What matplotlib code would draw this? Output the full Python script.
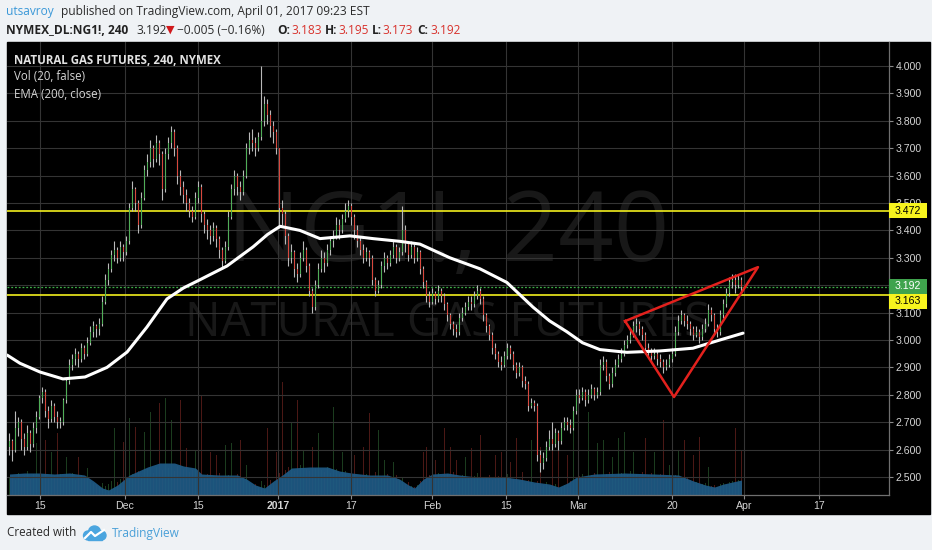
import numpy as np
import matplotlib
matplotlib.use('Agg')
import matplotlib.pyplot as plt
from matplotlib.patches import Rectangle, Circle
from matplotlib import transforms
from matplotlib.ticker import FormatStrFormatter

plt.rcParams['font.family'] = ['Open Sans', 'DejaVu Sans']

first_open = 2.61
closes = [
    2.63, 2.60, 2.68, 2.70, 2.64, 2.61, 2.66, 2.62, 2.68, 2.72,
    2.79, 2.81, 2.74, 2.71, 2.76, 2.72, 2.70, 2.70, 2.78, 2.85,
    2.91, 2.93, 2.95, 2.93, 2.97, 2.95, 2.99, 3.03, 3.05, 3.04,
    3.06, 3.14, 3.22, 3.26, 3.31, 3.33, 3.30, 3.34, 3.32, 3.36,
    3.48, 3.55, 3.50, 3.42, 3.52, 3.62, 3.65, 3.70, 3.66, 3.72,
    3.68, 3.55, 3.68, 3.72, 3.76, 3.70, 3.60, 3.56, 3.53, 3.50,
    3.47, 3.45, 3.52, 3.56, 3.46, 3.42, 3.40, 3.38, 3.41, 3.37,
    3.33, 3.29, 3.34, 3.45, 3.55, 3.60, 3.56, 3.54, 3.60, 3.70,
    3.73, 3.72, 3.70, 3.74, 3.80, 3.86, 3.82, 3.78, 3.76, 3.70,
    3.48, 3.46, 3.38, 3.30, 3.32, 3.26, 3.24, 3.30, 3.33, 3.27,
    3.18, 3.12, 3.20, 3.26, 3.30, 3.28, 3.33, 3.36, 3.38, 3.42,
    3.40, 3.44, 3.47, 3.49, 3.45, 3.40, 3.36, 3.33, 3.30, 3.32,
    3.30, 3.22, 3.18, 3.20, 3.27, 3.30, 3.28, 3.31, 3.34, 3.30,
    3.32, 3.40, 3.35, 3.31, 3.34, 3.30, 3.32, 3.26, 3.21, 3.16,
    3.14, 3.17, 3.15, 3.18, 3.16, 3.13, 3.09, 3.06, 3.04, 3.03,
    3.08, 3.10, 3.12, 3.14, 3.13, 3.16, 3.18, 3.15, 3.09, 3.05,
    3.02, 2.97, 2.95, 2.92, 2.91, 2.94, 2.97, 2.95, 2.91, 2.88,
    2.90, 2.85, 2.84, 2.76, 2.77, 2.76, 2.58, 2.55, 2.57, 2.61,
    2.64, 2.62, 2.66, 2.63, 2.68, 2.70, 2.69, 2.68, 2.74, 2.80,
    2.79, 2.81, 2.78, 2.80, 2.82, 2.80, 2.81, 2.91, 2.92, 2.87,
    2.84, 2.88, 2.91, 2.93, 2.95, 2.98, 3.00, 3.02, 3.05, 3.06,
    3.04, 3.02, 2.97, 2.96, 2.94, 2.95, 2.93, 2.92, 2.90, 2.91,
    2.93, 2.95, 3.03, 3.07, 3.09, 3.07, 3.06, 3.04, 3.02, 3.03,
    3.01, 3.04, 3.06, 3.11, 3.09, 3.04, 3.03, 3.09, 3.13, 3.17,
    3.21, 3.22, 3.20, 3.22, 3.192,
]
highs = [
    2.66, 2.64, 2.74, 2.72, 2.71, 2.66, 2.69, 2.67, 2.70, 2.74,
    2.80, 2.83, 2.82, 2.76, 2.78, 2.77, 2.74, 2.72, 2.79, 2.86,
    2.93, 2.95, 2.97, 2.96, 2.99, 2.98, 3.01, 3.05, 3.07, 3.06,
    3.08, 3.16, 3.24, 3.28, 3.33, 3.36, 3.34, 3.36, 3.35, 3.38,
    3.50, 3.58, 3.56, 3.51, 3.54, 3.64, 3.68, 3.73, 3.71, 3.75,
    3.73, 3.69, 3.70, 3.74, 3.78, 3.77, 3.71, 3.62, 3.58, 3.55,
    3.52, 3.49, 3.54, 3.58, 3.57, 3.47, 3.44, 3.42, 3.43, 3.42,
    3.38, 3.34, 3.36, 3.47, 3.57, 3.62, 3.61, 3.58, 3.62, 3.72,
    3.76, 3.77, 3.74, 3.76, 4.00, 3.89, 3.88, 3.84, 3.80, 3.77,
    3.70, 3.51, 3.47, 3.39, 3.35, 3.33, 3.28, 3.32, 3.36, 3.34,
    3.28, 3.19, 3.22, 3.28, 3.33, 3.32, 3.35, 3.38, 3.40, 3.45,
    3.44, 3.46, 3.50, 3.51, 3.50, 3.46, 3.42, 3.38, 3.35, 3.34,
    3.33, 3.31, 3.23, 3.22, 3.29, 3.32, 3.31, 3.33, 3.36, 3.35,
    3.34, 3.49, 3.42, 3.36, 3.36, 3.35, 3.34, 3.33, 3.27, 3.22,
    3.18, 3.19, 3.18, 3.20, 3.19, 3.17, 3.14, 3.10, 3.07, 3.06,
    3.10, 3.12, 3.14, 3.16, 3.16, 3.18, 3.20, 3.19, 3.16, 3.10,
    3.06, 3.03, 2.99, 2.96, 2.94, 2.96, 2.99, 2.98, 2.96, 2.92,
    2.92, 2.91, 2.87, 2.85, 2.79, 2.78, 2.77, 2.60, 2.59, 2.63,
    2.67, 2.70, 2.68, 2.67, 2.70, 2.72, 2.72, 2.71, 2.76, 2.82,
    2.82, 2.83, 2.82, 2.82, 2.84, 2.83, 2.83, 2.93, 2.94, 2.93,
    2.88, 2.90, 2.93, 2.95, 2.97, 3.00, 3.02, 3.04, 3.07, 3.08,
    3.07, 3.05, 3.03, 2.99, 2.97, 2.97, 2.96, 2.95, 2.93, 2.93,
    2.95, 2.97, 3.05, 3.09, 3.11, 3.10, 3.09, 3.07, 3.05, 3.05,
    3.04, 3.06, 3.08, 3.13, 3.12, 3.10, 3.06, 3.11, 3.15, 3.19,
    3.23, 3.24, 3.24, 3.24, 3.23,
]
lows = [
    2.58, 2.56, 2.59, 2.65, 2.60, 2.58, 2.60, 2.59, 2.61, 2.66,
    2.71, 2.77, 2.72, 2.68, 2.70, 2.70, 2.68, 2.68, 2.69, 2.77,
    2.84, 2.89, 2.91, 2.90, 2.92, 2.93, 2.94, 2.98, 3.01, 3.01,
    3.02, 3.05, 3.13, 3.20, 3.25, 3.29, 3.28, 3.29, 3.29, 3.31,
    3.35, 3.47, 3.47, 3.39, 3.41, 3.51, 3.60, 3.63, 3.63, 3.65,
    3.64, 3.51, 3.54, 3.66, 3.70, 3.67, 3.57, 3.53, 3.50, 3.47,
    3.45, 3.43, 3.44, 3.50, 3.43, 3.39, 3.37, 3.35, 3.36, 3.34,
    3.30, 3.26, 3.28, 3.33, 3.44, 3.53, 3.53, 3.51, 3.53, 3.59,
    3.68, 3.69, 3.67, 3.69, 3.73, 3.78, 3.79, 3.74, 3.72, 3.68,
    3.41, 3.42, 3.35, 3.27, 3.28, 3.23, 3.21, 3.23, 3.29, 3.25,
    3.16, 3.10, 3.11, 3.19, 3.25, 3.25, 3.27, 3.31, 3.34, 3.37,
    3.37, 3.39, 3.43, 3.45, 3.42, 3.37, 3.34, 3.31, 3.28, 3.29,
    3.27, 3.20, 3.16, 3.17, 3.19, 3.25, 3.26, 3.27, 3.30, 3.28,
    3.29, 3.31, 3.32, 3.29, 3.30, 3.28, 3.29, 3.24, 3.19, 3.14,
    3.12, 3.13, 3.13, 3.14, 3.14, 3.11, 3.07, 3.04, 3.02, 3.01,
    3.02, 3.07, 3.09, 3.11, 3.11, 3.12, 3.15, 3.13, 3.07, 3.03,
    3.00, 2.95, 2.93, 2.90, 2.89, 2.90, 2.93, 2.93, 2.89, 2.86,
    2.87, 2.83, 2.82, 2.74, 2.75, 2.74, 2.56, 2.52, 2.53, 2.56,
    2.60, 2.60, 2.61, 2.60, 2.62, 2.67, 2.67, 2.66, 2.67, 2.73,
    2.77, 2.78, 2.76, 2.77, 2.79, 2.78, 2.79, 2.80, 2.89, 2.85,
    2.82, 2.83, 2.87, 2.90, 2.92, 2.94, 2.97, 2.99, 3.01, 3.03,
    3.02, 3.00, 2.95, 2.94, 2.92, 2.93, 2.91, 2.90, 2.88, 2.89,
    2.90, 2.92, 2.94, 3.02, 3.06, 3.05, 3.04, 3.02, 3.00, 3.01,
    2.99, 3.00, 3.03, 3.05, 3.07, 3.02, 3.01, 3.02, 3.08, 3.12,
    3.16, 3.19, 3.17, 3.19, 3.17,
]
volumes = [
    18, 20, 15, 22, 17, 19, 24, 16, 21, 52,
    20, 18, 55, 17, 43, 19, 62, 21, 16, 38,
    18, 22, 15, 38, 20, 17, 27, 14, 12, 10,
    8, 12, 9, 11, 14, 67, 13, 16, 53, 18,
    77, 21, 68, 24, 19, 63, 26, 83, 22, 28,
    92, 25, 97, 27, 75, 24, 29, 95, 26, 47,
    23, 25, 45, 20, 99, 18, 21, 43, 19, 40,
    22, 17, 50, 20, 52, 18, 21, 55, 16, 30,
    12, 9, 11, 8, 14, 10, 67, 15, 12, 43,
    22, 113, 25, 28, 72, 24, 95, 30, 45, 26,
    24, 48, 27, 62, 25, 23, 28, 22, 88, 26,
    21, 43, 24, 19, 22, 40, 18, 20, 48, 21,
    82, 19, 23, 65, 18, 35, 21, 17, 33, 20,
    15, 18, 11, 13, 9, 8, 10, 14, 43, 48,
    20, 18, 35, 22, 19, 67, 21, 48, 23, 35,
    18, 20, 38, 17, 47, 19, 22, 60, 16, 18,
    20, 15, 40, 19, 43, 17, 21, 33, 16, 57,
    14, 23, 12, 15, 55, 11, 14, 48, 10, 13,
    9, 47, 11, 55, 8, 10, 40, 14, 73, 16,
    19, 21, 17, 83, 20, 22, 52, 18, 55, 21,
    23, 38, 19, 57, 22, 63, 20, 24, 43, 21,
    19, 23, 57, 20, 22, 43, 18, 21, 75, 19,
    30, 22, 20, 45, 18, 55, 17, 15, 40, 13,
    58, 11, 12, 28, 9, 10, 8, 11, 12, 10,
    13, 14, 67, 15, 45,
]
vol_ma_idx = [0, 5, 10, 15, 20, 25, 28, 31, 33, 36, 40, 43, 46, 50, 55, 58, 62, 64,
              70, 76, 79, 82, 85, 88, 91, 94, 100, 106, 110, 114, 120, 126, 130, 133,
              135, 138, 141, 146, 150, 156, 165, 170, 175, 180, 183, 186, 189, 195,
              205, 215, 223, 228, 232, 235, 238, 241, 244]
vol_ma = [21, 22, 22, 21, 22, 20, 14, 7, 5, 10, 20, 24, 28, 32, 32, 29, 27, 21,
          20, 20, 16, 10, 7, 14, 20, 27, 28, 28, 24, 22, 20, 20, 16, 10,
          7, 16, 21, 22, 20, 18, 18, 16, 13, 11, 8, 12, 18, 21,
          22, 21, 20, 14, 10, 8, 11, 13, 15]
ema_idx = [-0.8, 3.5, 10.2, 17.8, 25.2, 32.5, 39.2, 45.8, 52.5, 58, 63.5, 72.5, 81.2,
           86, 90.2, 96.8, 103.5, 113.5, 121.2, 130.2, 136.8, 146.8, 156.8, 165.8,
           174.5, 180, 185.8, 191, 196.8, 205.8, 216.8, 227.8, 236.8, 244.5]
ema_vals = [2.945, 2.915, 2.883, 2.858, 2.865, 2.90, 2.956, 3.047, 3.15, 3.19, 3.22,
            3.27, 3.34, 3.385, 3.415, 3.40, 3.37, 3.38, 3.37, 3.36, 3.35, 3.30, 3.26,
            3.21, 3.12, 3.07, 3.03, 2.99, 2.965, 2.955, 2.96, 2.97, 3.00, 3.025]

tick_pos = [10.17, 38.5, 62.83, 89.5, 113.83, 140.83, 165.5, 189.5, 220.83, 244.83, 269.83]
tick_labels = ['15', 'Dec', '15', '2017', '17', 'Feb', '15', 'Mar', '20', 'Apr', '17']
levels = [3.472, 3.163]
last_price = 3.192
wedge_x = [205.2, 249.5, 221.5, 205.2]
wedge_y = [3.069, 3.266, 2.792, 3.069]

assert len(closes) == len(highs) == len(lows) == len(volumes)

n = len(closes)
x = np.arange(n)
c = np.array(closes)
o = np.array([first_open] + closes[:-1])
up = c >= o
up_col, dn_col, wick_col = '#4fae57', '#d8473d', '#b9b9b9'

W, H = 932, 550
fig = plt.figure(figsize=(W / 100, H / 100), dpi=100, facecolor='#eff2f5')


def fx(px):
    return px / W


def fy(py):
    return 1 - py / H


# black chart panel including the axis strips
fig.add_artist(Rectangle((fx(7), fy(514)), fx(930) - fx(7), fy(42) - fy(514),
                         transform=fig.transFigure, color='black', zorder=0))

ax = fig.add_axes([fx(7), fy(495), fx(889) - fx(7), fy(42) - fy(495)])
ax2 = ax.twinx()
ax2.set_zorder(1)
ax.set_zorder(2)
ax.patch.set_visible(False)
ax2.patch.set_facecolor('black')

# volume pane
vcol = np.where(up, up_col, dn_col)
ax2.bar(x, volumes, width=0.4, color=vcol, alpha=0.35, linewidth=0)
ax2.fill_between(vol_ma_idx, 0, vol_ma, color='#1f5b86', alpha=0.92, linewidth=0)
ax2.set_ylim(0, 453)
ax2.set_yticks([])
for s in ax2.spines.values():
    s.set_visible(False)

# watermark
ax.text(0.5, (495 - 236) / 453, 'NG1!, 240', transform=ax.transAxes, ha='center',
        va='center', fontsize=70, color='#181818', zorder=0.5)
ax.text(0.5, (495 - 323) / 453, 'NATURAL GAS FUTURES', transform=ax.transAxes,
        ha='center', va='center', fontsize=34, color='#181818', zorder=0.5)

# candles
ax.vlines(x, lows, highs, color=wick_col, linewidth=0.8, zorder=3)
body_lo = np.minimum(o, c)
body_h = np.maximum(np.abs(c - o), 0.004)
ax.bar(x, body_h, bottom=body_lo, width=0.6, color=np.where(up, up_col, dn_col),
       linewidth=0, zorder=4)

ax.plot(ema_idx, ema_vals, color='white', linewidth=2.2, zorder=5,
        solid_capstyle='round')
for lv in levels:
    ax.axhline(lv, color='#f2ee1d', linewidth=1.2, zorder=2.6)
ax.axhline(last_price, color='#3cae47', linewidth=0.9, linestyle=(0, (1.5, 1.5)), zorder=2.6)
ax.plot(wedge_x, wedge_y, color='#e3211d', linewidth=1.8, zorder=6)

ax.set_xlim(-0.83, 293.17)
ax.set_ylim(2.4343, 4.0876)
ax.set_yticks(np.arange(2.5, 4.001, 0.1))
ax.yaxis.set_major_formatter(FormatStrFormatter('%.3f'))
ax.yaxis.tick_right()
ax.set_xticks(tick_pos, tick_labels)
ax.get_xticklabels()[3].set_fontweight('bold')
for lab in ax.get_xticklabels() + ax.get_yticklabels():
    lab.set_fontfamily(['Liberation Sans', 'DejaVu Sans'])
ax.tick_params(axis='both', colors='#8a8a8a', labelcolor='#d4d4d4', labelsize=7.6,
               length=3, width=0.8)
ax.tick_params(axis='x', pad=1.5)
ax.tick_params(axis='y', pad=2)
ax.grid(color='#343434', linewidth=0.8)
ax.set_axisbelow(True)
for side in ['top', 'left']:
    ax.spines[side].set_visible(False)
for side in ['right', 'bottom']:
    ax.spines[side].set_color('#6f6f6f')
    ax.spines[side].set_linewidth(0.9)

# price labels on the scale
bt = transforms.blended_transform_factory(ax.transAxes, ax.transData)
box_w = 38 / 882
box_h = 15 / 274
for val, y, fc, tc in [(3.472, 3.472, '#f7f41e', 'black'),
                       (3.192, 3.197, '#3fa34d', 'white'),
                       (3.163, 3.141, '#f7f41e', 'black')]:
    ax.add_patch(Rectangle((1.0, y - box_h / 2), box_w, box_h, transform=bt,
                           facecolor=fc, edgecolor='none', clip_on=False, zorder=7))
    ax.text(1.0 + 6 / 882, y, '%.3f' % val, transform=bt, ha='left', va='center',
            fontsize=7.6, color=tc, clip_on=False, zorder=8,
            family=['Liberation Sans', 'DejaVu Sans'])

# legend texts in the pane
ax.text(7 / 882, (495 - 60) / 453, 'NATURAL GAS FUTURES, 240, NYMEX',
        transform=ax.transAxes, fontsize=8.3, fontweight='bold', color='#e2e2e2',
        va='center', ha='left', zorder=8)
ax.text(7 / 882, (495 - 77) / 453, 'Vol (20, false)', transform=ax.transAxes,
        fontsize=8.3, color='#d6d6d6', va='center', ha='left', zorder=8)
ax.text(7 / 882, (495 - 94) / 453, 'EMA (200, close)', transform=ax.transAxes,
        fontsize=8.3, color='#d6d6d6', va='center', ha='left', zorder=8)

# header
fs = 8.6
fig.text(fx(6), fy(11), 'utsavroy', color='#3a98d8', fontsize=fs, va='center')
fig.text(fx(61), fy(11), 'published on TradingView.com, April 01, 2017 09:23 EST',
         color='#2b2b2b', fontsize=fs, va='center')
red = '#d8322c'
fig.text(fx(6), fy(30), 'NYMEX_DL:NG1!, 240', color='#222222', fontsize=fs,
         fontweight='bold', va='center')
fig.text(fx(136), fy(30), '3.192', color='#2b2b2b', fontsize=fs, va='center')
fig.text(fx(166), fy(30), '\u25bc', color='#d0191c', fontsize=8, va='center',
         family=['DejaVu Sans'])
fig.text(fx(177), fy(30), '\u22120.005 (\u22120.16%)', color='#2b2b2b', fontsize=fs,
         va='center', family=['Open Sans', 'DejaVu Sans'])
for px, lab in [(277, 'O:'), (325, 'H:'), (372, 'L:'), (417, 'C:')]:
    fig.text(fx(px), fy(30), lab, color='#222222', fontsize=fs,
             fontweight='bold', va='center')
for px, val in [(291, '3.183'), (338, '3.195'), (382, '3.173'), (430, '3.192')]:
    fig.text(fx(px), fy(30), val, color=red, fontsize=fs, va='center')

# footer
fig.text(fx(7), fy(533), 'Created with', color='#2b2b2b', fontsize=8.4, va='center')
lax = fig.add_axes([fx(82), fy(542), 26 / W, 18 / H])
lax.set_xlim(0, 26)
lax.set_ylim(0, 18)
lax.axis('off')
for cx, cy, r in [(6, 6.5, 4.5), (12.5, 10, 6), (19.5, 6.5, 4.5)]:
    lax.add_patch(Circle((cx, cy), r, color='#4aa5df'))
lax.add_patch(Rectangle((6, 2), 13.5, 5, color='#4aa5df'))
lax.plot([3, 9, 13, 22], [4, 10, 6, 12], color='white', linewidth=1.6)
fig.text(fx(112), fy(533), 'TradingView', color='#4aa0d8', fontsize=8.6, va='center')

fig.savefig('out.png', dpi=100, facecolor=fig.get_facecolor())
